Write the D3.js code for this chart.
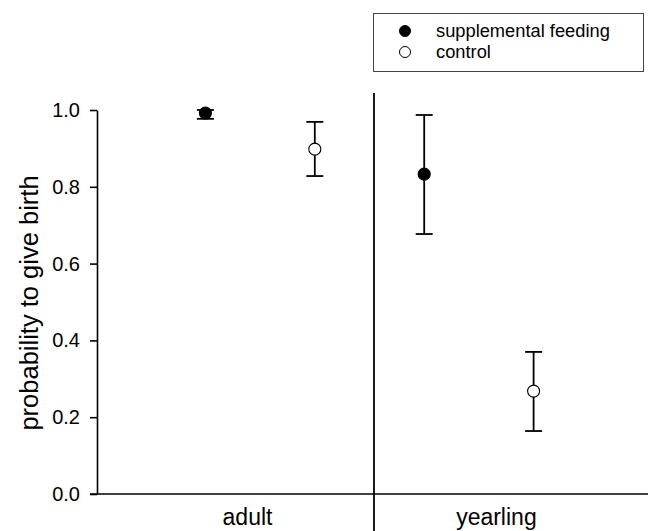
<!DOCTYPE html>
<html>
<head>
<meta charset="utf-8">
<script src="https://cdn.jsdelivr.net/npm/d3@7"></script>
<style>
  html, body { margin: 0; padding: 0; background: #fff; }
  svg { display: block; font-family: "Liberation Sans", Arial, sans-serif; }
</style>
</head>
<body>
<svg id="chart" width="648" height="531"></svg>
<script>
// ---- data ----
const groups = ["adult", "yearling"];
const treatments = ["supplemental feeding", "control"];
const supplementalMean  = [0.992, 0.833];
const supplementalLower = [0.977, 0.677];
const supplementalUpper = [1.000, 0.987];
const controlMean  = [0.898, 0.268];
const controlLower = [0.828, 0.164];
const controlUpper = [0.969, 0.370];
const yTicks = [0.0, 0.2, 0.4, 0.6, 0.8, 1.0];
const yTickLabels = ["0.0", "0.2", "0.4", "0.6", "0.8", "1.0"];
const yTitle = "probability to give birth";

// ---- layout ----
const svg = d3.select("#chart");
const plotLeft = 97, plotTop = 110, plotBottom = 494;
const x = d3.scaleLinear().domain([0, 5]).range([96, 643]);
const y = d3.scaleLinear().domain([0, 1]).range([plotBottom, plotTop]);
const groupLabelPos = [1.385, 3.66];
const dividerPos = 2.541;

const points = [];
groups.forEach((g, i) => {
  points.push({g, t: 0, pos: 1 + 2 * i, m: supplementalMean[i], lo: supplementalLower[i], hi: supplementalUpper[i]});
  points.push({g, t: 1, pos: 2 + 2 * i, m: controlMean[i], lo: controlLower[i], hi: controlUpper[i]});
});

// y axis
const yAxis = d3.axisLeft(y).tickValues(yTicks)
  .tickFormat((d, i) => yTickLabels[i]).tickSize(7).tickSizeOuter(0).tickPadding(10);
const ga = svg.append("g").attr("transform", `translate(${plotLeft},0)`).call(yAxis);
ga.select(".domain").attr("stroke", "#000").attr("stroke-width", 1.6);
ga.selectAll(".tick line").attr("stroke", "#000").attr("stroke-width", 1.6);
ga.selectAll(".tick text").attr("font-size", 20).attr("fill", "#000")
  .attr("font-family", "Liberation Sans, Arial, sans-serif");

// x axis line
svg.append("line").attr("x1", plotLeft - 7).attr("x2", 648).attr("y1", plotBottom).attr("y2", plotBottom)
  .attr("stroke", "#000").attr("stroke-width", 1.6);

// divider
svg.append("line").attr("x1", x(dividerPos)).attr("x2", x(dividerPos)).attr("y1", 93).attr("y2", 531)
  .attr("stroke", "#000").attr("stroke-width", 1.8);

// group labels
svg.selectAll(".glab").data(groups).enter().append("text")
  .attr("x", (d, i) => x(groupLabelPos[i])).attr("y", 525)
  .attr("text-anchor", "middle").attr("font-size", 23).attr("fill", "#000").text(d => d);

// y title
svg.append("text").attr("transform", `translate(38,303) rotate(-90)`)
  .attr("text-anchor", "middle").attr("font-size", 25.5).attr("fill", "#000").text(yTitle);

// error bars
const cap = 8.5;
const eb = svg.selectAll(".eb").data(points).enter().append("g");
eb.append("line").attr("x1", d => x(d.pos)).attr("x2", d => x(d.pos))
  .attr("y1", d => y(d.lo)).attr("y2", d => y(d.hi)).attr("stroke", "#000").attr("stroke-width", 1.8);
eb.append("line").attr("x1", d => x(d.pos) - cap).attr("x2", d => x(d.pos) + cap)
  .attr("y1", d => y(d.lo)).attr("y2", d => y(d.lo)).attr("stroke", "#000").attr("stroke-width", 1.8);
eb.append("line").attr("x1", d => x(d.pos) - cap).attr("x2", d => x(d.pos) + cap)
  .attr("y1", d => y(d.hi)).attr("y2", d => y(d.hi)).attr("stroke", "#000").attr("stroke-width", 1.8);
eb.append("circle").attr("cx", d => x(d.pos)).attr("cy", d => y(d.m)).attr("r", 6)
  .attr("fill", d => d.t === 0 ? "#000" : "#fff").attr("stroke", "#000").attr("stroke-width", 1.1);

// legend
const lg = svg.append("g");
lg.append("rect").attr("x", 373.5).attr("y", 13.5).attr("width", 270).attr("height", 58)
  .attr("fill", "#fff").attr("stroke", "#444").attr("stroke-width", 1);
treatments.forEach((t, i) => {
  lg.append("circle").attr("cx", 405).attr("cy", 31 + i * 21).attr("r", 5.5)
    .attr("fill", i === 0 ? "#000" : "#fff").attr("stroke", "#000").attr("stroke-width", 1);
  lg.append("text").attr("x", 436).attr("y", 37 + i * 21).attr("font-size", 18.3)
    .attr("fill", "#000").text(t);
});
</script>
</body>
</html>
